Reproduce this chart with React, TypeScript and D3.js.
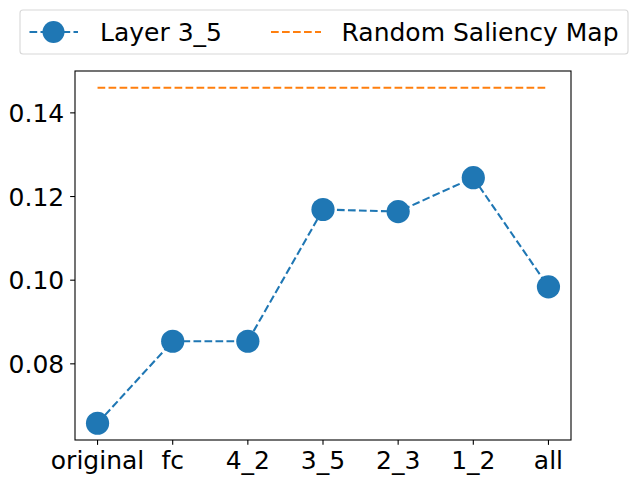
import React from "react";
import * as d3 from "d3";

const categories = ["original", "fc", "4_2", "3_5", "2_3", "1_2", "all"];
const layerValues = [0.0658, 0.0854, 0.0854, 0.1169, 0.1164, 0.1245, 0.0984];
const randomValue = 0.146;
const yTicks = [0.08, 0.1, 0.12, 0.14];
const legendLabels = ["Layer 3_5", "Random Saliency Map"];

const W = 637;
const H = 484;
const M = { left: 75, right: 571, top: 71, bottom: 440 };
const BLUE = "#1f77b4";
const ORANGE = "#ff7f0e";
const FONT = "DejaVu Sans, sans-serif";
const FS = 25;

export default function App() {
  const n = categories.length;
  const x = d3.scaleLinear().domain([-0.3, n - 1 + 0.3]).range([M.left, M.right]);
  const all = [...layerValues, randomValue];
  const lo = d3.min(all)!;
  const hi = d3.max(all)!;
  const pad = (hi - lo) * 0.05;
  const y = d3.scaleLinear().domain([lo - pad, hi + pad]).range([M.bottom, M.top]);

  const line = d3
    .line<number>()
    .x((_, i) => x(i))
    .y((d) => y(d));

  const dash = "7.7,3.3";
  const tickLen = 4.86;

  return (
    <svg
      width={W}
      height={H}
      style={{ position: "absolute", left: 0, top: 0 }}
      fontFamily={FONT}
    >
      <rect width={W} height={H} fill="white" />
      <line
        x1={x(0)}
        x2={x(n - 1)}
        y1={y(randomValue)}
        y2={y(randomValue)}
        stroke={ORANGE}
        strokeWidth={2.08}
        strokeDasharray={dash}
      />
      <path
        d={line(layerValues)!}
        fill="none"
        stroke={BLUE}
        strokeWidth={2.08}
        strokeDasharray={dash}
      />
      {layerValues.map((v, i) => (
        <circle key={i} cx={x(i)} cy={y(v)} r={11.6} fill={BLUE} />
      ))}
      <rect
        x={M.left}
        y={M.top}
        width={M.right - M.left}
        height={M.bottom - M.top}
        fill="none"
        stroke="black"
        strokeWidth={1.1}
      />
      {categories.map((c, i) => (
        <g key={c}>
          <line
            x1={x(i)}
            x2={x(i)}
            y1={M.bottom}
            y2={M.bottom + tickLen}
            stroke="black"
            strokeWidth={1.1}
          />
          <text
            x={x(i)}
            y={M.bottom + 2 * tickLen + FS * 0.76}
            fontSize={FS}
            textAnchor="middle"
            fill="black"
          >
            {c}
          </text>
        </g>
      ))}
      {yTicks.map((t) => (
        <g key={t}>
          <line
            x1={M.left - tickLen}
            x2={M.left}
            y1={y(t)}
            y2={y(t)}
            stroke="black"
            strokeWidth={1.1}
          />
          <text
            x={M.left - 2 * tickLen - 1}
            y={y(t)}
            dy="0.36em"
            fontSize={FS}
            textAnchor="end"
            fill="black"
          >
            {d3.format(".2f")(t)}
          </text>
        </g>
      ))}
      <rect
        x={20}
        y={10}
        width={608}
        height={44}
        rx={3}
        fill="white"
        fillOpacity={0.8}
        stroke="#d8d8d8"
        strokeWidth={1.1}
      />
      <line x1={29.5} x2={78} y1={32} y2={32} stroke={BLUE} strokeWidth={2.08} strokeDasharray={dash} />
      <circle cx={53.5} cy={32} r={11} fill={BLUE} />
      <text x={100} y={32} dy="0.36em" fontSize={FS} fill="black">
        {legendLabels[0]}
      </text>
      <line x1={271} x2={321} y1={32} y2={32} stroke={ORANGE} strokeWidth={2.08} strokeDasharray={dash} />
      <text x={341.5} y={32} dy="0.36em" fontSize={FS} fill="black">
        {legendLabels[1]}
      </text>
    </svg>
  );
}
